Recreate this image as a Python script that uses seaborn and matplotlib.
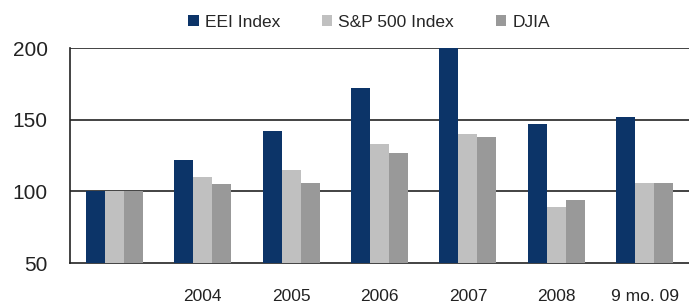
import pandas as pd
import numpy as np
import seaborn as sns
import matplotlib.pyplot as plt
from matplotlib.ticker import FixedLocator

# Datos
years = ['2003', '2004', '2005', '2006', '2007', '2008', '9 mo. 09']
year_labels = ['', '2004', '2005', '2006', '2007', '2008', '9 mo. 09']
eei = [100, 122, 142, 172, 200, 147, 152]
sp500 = [100, 110, 115, 133, 140, 89, 106]
djia = [100, 105, 106, 127, 138, 94, 106]
series = ['EEI Index', 'S&P 500 Index', 'DJIA']
colors = ['#0c3468', '#c0c0c0', '#999999']

df = pd.DataFrame({
    'year': years * 3,
    'value': eei + sp500 + djia,
    'series': np.repeat(series, len(years)),
})

sns.set_style("white")
plt.rcParams['font.family'] = ['Liberation Sans', 'DejaVu Sans']

fig = plt.figure(figsize=(6.89, 3.05), dpi=100)
ax = fig.add_axes([0.1016, 0.1377, 0.8984, 0.7049])

sns.barplot(data=df, x='year', y='value', hue='series', order=years,
            hue_order=series, palette=colors, width=0.645, saturation=1,
            edgecolor='none', ax=ax, zorder=3)

ax.set_ylim(50, 200)
ax.set_xlim(-0.5, len(years) - 0.5)
ax.set_yticks([50, 100, 150, 200])
for y in [100, 150, 200]:
    ax.axhline(y, color='#222222', lw=1.2, zorder=1)

ax.set_xlabel('')
ax.set_ylabel('')
ax.set_xticks(range(len(years)))
ax.set_xticklabels(year_labels, fontsize=12.5, color='#222222')
ax.tick_params(axis='x', which='major', length=0, pad=19)
ax.xaxis.set_minor_locator(FixedLocator(np.arange(0.5, len(years) - 0.5, 1)))
ax.tick_params(axis='x', which='minor', length=6, width=1.2, color='#222222', direction='out')
ax.tick_params(axis='y', length=5, width=1.2, color='#222222', labelsize=15, labelcolor='#222222', pad=11)

for s in ['top', 'right']:
    ax.spines[s].set_visible(False)
for s in ['left', 'bottom']:
    ax.spines[s].set_color('#222222')
    ax.spines[s].set_linewidth(1.2)

ax.legend(loc='center', bbox_to_anchor=(0.483, 1.12), ncol=3, frameon=False,
          fontsize=12.5, handlelength=0.6, handleheight=0.6, handletextpad=0.35,
          columnspacing=2.4, borderaxespad=0)

fig.savefig('out.png', dpi=100)
